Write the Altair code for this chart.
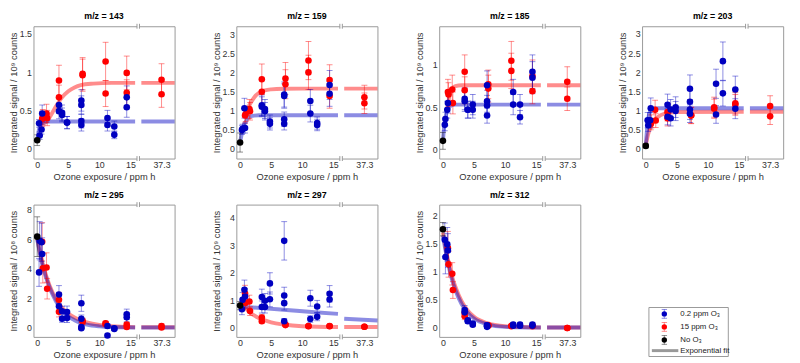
import altair as alt
import pandas as pd

# ---------------- data ----------------
MZ = ["143", "159", "185", "203", "295", "297", "312"]
UNIT_EXP = ["⁹", "⁹", "⁹", "⁹", "⁸", "⁹", "⁹"]

BLUE_X = [0.3, 0.4, 0.7, 0.8, 3.5, 3.5, 4.0, 4.0, 4.8, 4.8,
          7.1, 7.1, 7.1, 7.1, 11.3, 11.3, 12.4, 12.4, 14.4, 14.4]
RED_X = [0.8, 0.9, 1.5, 1.6, 3.5, 3.5, 7.3, 7.3, 11.0, 11.0, 14.4, 14.4, 37.3, 37.3]
BLACK_X = [0.0]

BLUE_Y = [
    [0.33, 0.17, 0.25, 0.46, 0.57, 0.49, 0.47, 0.44, 0.34, 0.34, 0.63, 0.57, 0.36, 0.31, 0.40, 0.31, 0.29, 0.18, 0.67, 0.54],
    [0.50, 0.53, 1.07, 0.55, 1.15, 1.11, 1.05, 0.99, 0.72, 0.66, 1.43, 1.39, 0.78, 0.66, 1.26, 0.93, 0.68, 0.63, 1.68, 1.45],
    [0.29, 0.36, 0.47, 0.55, 0.60, 0.57, 0.47, 0.47, 0.53, 0.47, 0.76, 0.57, 0.52, 0.40, 0.68, 0.53, 0.53, 0.38, 0.92, 0.85],
    [0.75, 0.62, 0.75, 1.06, 1.15, 0.84, 1.03, 0.80, 1.09, 0.99, 1.57, 1.23, 1.03, 0.92, 1.70, 0.90, 2.29, 1.45, 1.55, 1.05],
    [3.75, 5.9, 5.8, 5.0, 2.25, 1.44, 1.1, 0.6, 1.06, 0.64, 1.65, 0.6, 0.04, -0.05, 0.1, -0.55, -0.05, -0.1, 0.9, 0.69],
    [0.67, 1.01, 1.38, 1.13, 1.11, 0.75, 0.98, 0.75, 1.61, 1.03, 3.16, 1.17, 0.89, 0.23, 1.07, 0.31, 0.77, 0.39, 1.23, 1.02],
    [1.57, 1.26, 1.49, 1.38, 0.31, 0.27, 0.13, 0.11, 0.07, 0.05, 0.04, 0.01, 0.03, 0.02, 0.05, 0.03, 0.05, 0.03, 0.05, 0.03],
]
BLUE_E = [
    [0.05, 0.05, 0.06, 0.11, 0.11, 0.10, 0.10, 0.09, 0.08, 0.08, 0.14, 0.12, 0.09, 0.08, 0.10, 0.08, 0.07, 0.05, 0.15, 0.13],
    [0.12, 0.12, 0.26, 0.13, 0.27, 0.26, 0.25, 0.23, 0.17, 0.16, 0.33, 0.32, 0.19, 0.16, 0.30, 0.22, 0.16, 0.15, 0.38, 0.33],
    [0.07, 0.08, 0.10, 0.12, 0.13, 0.12, 0.10, 0.10, 0.12, 0.10, 0.17, 0.13, 0.12, 0.09, 0.15, 0.12, 0.12, 0.08, 0.20, 0.19],
    [0.20, 0.16, 0.20, 0.27, 0.28, 0.21, 0.26, 0.20, 0.27, 0.25, 0.36, 0.30, 0.26, 0.23, 0.38, 0.23, 0.50, 0.33, 0.35, 0.26],
    [0.95, 1.3, 1.3, 1.1, 0.6, 0.4, 0.35, 0.25, 0.4, 0.3, 0.55, 0.25, 0.15, 0.1, 0.15, 0.1, 0.1, 0.1, 0.35, 0.3],
    [0.20, 0.27, 0.35, 0.30, 0.29, 0.22, 0.26, 0.22, 0.39, 0.27, 0.70, 0.30, 0.25, 0.10, 0.29, 0.12, 0.22, 0.14, 0.30, 0.27],
    [0.30, 0.30, 0.30, 0.30, 0.08, 0.07, 0.04, 0.04, 0.03, 0.03, 0.05, 0.02, 0.03, 0.02, 0.04, 0.03, 0.04, 0.03, 0.04, 0.03],
]
RED_Y = [
    [0.39, 0.41, 0.46, 0.40, 0.89, 0.67, 0.98, 0.96, 1.14, 0.72, 0.99, 0.73, 0.90, 0.71],
    [0.88, 0.92, 1.05, 0.99, 1.83, 1.50, 1.85, 1.70, 2.32, 2.01, 1.81, 1.39, 1.36, 1.20],
    [0.68, 0.65, 0.71, 0.55, 0.92, 0.70, 0.77, 0.72, 1.05, 0.93, 0.87, 0.69, 0.80, 0.60],
    [0.65, 0.72, 1.02, 0.74, 0.96, 0.80, 0.88, 0.87, 1.09, 1.05, 1.19, 1.15, 1.12, 0.85],
    [5.83, 4.03, 4.08, 2.64, 1.89, 1.07, 0.43, 0.40, 0.28, 0.25, 0.21, 0.04, 0.10, 0.0],
    [1.24, 0.90, 0.95, 0.60, 0.37, 0.23, 0.11, 0.09, 0.06, 0.05, 0.06, 0.05, 0.03, 0.03],
    [1.42, 1.13, 0.96, 0.67, 0.26, 0.20, 0.04, 0.03, 0.03, 0.02, 0.03, 0.02, -0.01, -0.01],
]
RED_E = [
    [0.10, 0.10, 0.12, 0.10, 0.20, 0.16, 0.21, 0.21, 0.25, 0.17, 0.22, 0.17, 0.21, 0.17],
    [0.20, 0.20, 0.25, 0.23, 0.40, 0.33, 0.42, 0.38, 0.50, 0.45, 0.40, 0.32, 0.31, 0.27],
    [0.15, 0.14, 0.17, 0.13, 0.20, 0.16, 0.17, 0.16, 0.23, 0.21, 0.19, 0.15, 0.18, 0.14],
    [0.15, 0.17, 0.25, 0.18, 0.23, 0.20, 0.21, 0.21, 0.26, 0.25, 0.28, 0.27, 0.27, 0.21],
    [1.3, 1.0, 1.0, 0.7, 0.5, 0.35, 0.2, 0.2, 0.15, 0.15, 0.12, 0.1, 0.15, 0.1],
    [0.30, 0.23, 0.23, 0.16, 0.10, 0.07, 0.04, 0.03, 0.03, 0.02, 0.03, 0.02, 0.02, 0.02],
    [0.30, 0.23, 0.20, 0.15, 0.08, 0.06, 0.03, 0.03, 0.02, 0.02, 0.02, 0.02, 0.02, 0.02],
]
BLACK_Y = [0.11, 0.17, 0.10, 0.08, 6.18, 0.80, 1.76]
BLACK_E = [0.07, 0.25, 0.10, 0.05, 1.35, 0.15, 0.12]

FIT_BLUE_X = [
    [0, 0.25, 0.5, 0.75, 1, 1.5, 2, 15.75],
    [0, 0.25, 0.5, 0.75, 1, 1.5, 2, 3, 15.75],
    [0, 0.25, 0.5, 0.75, 1, 1.5, 2, 15.75],
    [0, 0.25, 0.5, 0.75, 1, 1.5, 2, 15.75],
    [0, 0.5, 1, 1.5, 2, 3, 4, 5, 6, 7, 8, 10, 12, 15.75],
    [0, 4, 8, 12, 15.75],
    [0, 0.5, 1, 1.5, 2, 3, 4, 5, 7, 10, 15.75],
]
FIT_BLUE_Y = [
    [0.10, 0.24, 0.31, 0.34, 0.35, 0.355, 0.355, 0.355],
    [0.17, 0.38, 0.55, 0.67, 0.75, 0.84, 0.87, 0.885, 0.885],
    [0.10, 0.30, 0.41, 0.47, 0.50, 0.525, 0.53, 0.53],
    [0.08, 0.60, 0.88, 0.99, 1.03, 1.055, 1.06, 1.06],
    [6.0, 4.9, 4.0, 3.3, 2.7, 1.8, 1.15, 0.75, 0.5, 0.32, 0.2, 0.08, 0.03, 0.0],
    [0.77, 0.70, 0.63, 0.56, 0.50],
    [1.65, 1.33, 1.06, 0.84, 0.67, 0.42, 0.26, 0.16, 0.06, 0.01, 0.0],
]
FIT_BLUE_TAIL = [[0.355, 0.355], [0.885, 0.885], [0.53, 0.53], [1.06, 1.06],
                 [0.0, 0.0], [0.32, 0.26], [0.0, 0.0]]
FIT_RED_X = [
    [0.8, 1.2, 1.6, 2, 2.5, 3, 4, 5, 6, 7, 9, 12, 15.75],
    [0.8, 1, 1.5, 2, 2.5, 3, 4, 5, 7, 10, 15.75],
    [0.8, 1, 1.25, 1.5, 2, 3, 4, 15.75],
    [0, 0.25, 0.5, 1, 1.5, 2, 3, 4, 5, 15.75],
    [0, 0.5, 1, 1.5, 2, 3, 4, 5, 6, 7, 8, 10, 12, 15.75],
    [0, 0.5, 1, 1.5, 2, 3, 4, 5, 7, 10, 15.75],
    [0, 0.5, 1, 1.5, 2, 3, 4, 5, 7, 10, 15.75],
]
FIT_RED_Y = [
    [0.33, 0.34, 0.36, 0.41, 0.48, 0.55, 0.67, 0.75, 0.80, 0.83, 0.85, 0.86, 0.86],
    [0.85, 0.95, 1.15, 1.29, 1.40, 1.47, 1.54, 1.565, 1.58, 1.585, 1.585],
    [0.50, 0.62, 0.69, 0.72, 0.75, 0.76, 0.76, 0.76],
    [0.10, 0.30, 0.45, 0.64, 0.76, 0.84, 0.92, 0.95, 0.965, 0.97],
    [6.1, 5.0, 4.15, 3.45, 2.85, 1.95, 1.35, 0.95, 0.68, 0.48, 0.34, 0.17, 0.08, 0.02],
    [0.95, 0.80, 0.68, 0.57, 0.48, 0.35, 0.26, 0.19, 0.11, 0.05, 0.02],
    [1.70, 1.38, 1.12, 0.90, 0.73, 0.47, 0.30, 0.19, 0.08, 0.02, 0.0],
]
FIT_RED_TAIL = [[0.86, 0.86], [1.585, 1.585], [0.76, 0.76], [0.97, 0.97],
                [0.02, 0.02], [0.02, 0.02], [0.0, 0.0]]

Y_DOMAIN = [[-0.13, 1.6], [-0.25, 3.22], [-0.11, 1.46], [-0.25, 3.2],
            [-0.64, 8.36], [-0.34, 4.48], [-0.17, 2.2]]
Y_TICKS = [[0, 0.5, 1, 1.5], [0, 0.5, 1, 1.5, 2, 2.5, 3], [0, 0.5, 1],
           [0, 0.5, 1, 1.5, 2, 2.5, 3], [0, 2, 4, 6, 8], [0, 1, 2, 3, 4],
           [0, 0.5, 1, 1.5, 2]]
X_TICKS = [0, 5, 10, 15]
FAR_LABEL = "37.3"

LEG_LABELS = ["0.2 ppm O₃", "15 ppm O₃", "No O₃"]
FIT_LABEL = "Exponential fit"

# ---------------- style / layout ----------------
W, H = 144, 135
BLUE, RED, BLACK = "#0000c0", "#ff0000", "#000000"
FRAME = "#999999"
FONT = "Liberation Sans"
XDOM = [-0.6, 22.1]
FAR_POS = 20          # plot position of the far (37.3) column after the axis break
BREAK_L, BREAK_R = 16.05, 16.45
TAIL_X = [16.75, 22.1]

COLOR = alt.Color("s:N", scale=alt.Scale(domain=["blue", "red", "black"],
                                         range=[BLUE, RED, BLACK]), legend=None)


def xenc(field):
    return alt.X(f"{field}:Q",
                 scale=alt.Scale(domain=XDOM, nice=False, zero=False),
                 axis=alt.Axis(values=X_TICKS + [FAR_POS],
                               labelExpr=f"datum.value == {FAR_POS} ? '{FAR_LABEL}' : datum.label",
                               labelFlush=False, labelOverlap=False),
                 title="Ozone exposure / ppm h")


def yenc(i, field):
    return alt.Y(f"{field}:Q",
                 scale=alt.Scale(domain=Y_DOMAIN[i], nice=False, zero=False),
                 axis=alt.Axis(values=Y_TICKS[i], format="~g", titleX=-15, titleY=H / 2,
                               labelOverlap=False, labelFlush=False),
                 title=f"Integrated signal / 10{UNIT_EXP[i]} counts")


def panel(i):
    rows = []
    for x, y, e in zip(RED_X, RED_Y[i], RED_E[i]):
        rows.append(dict(x=x, y=y, e=e, s="red"))
    for x, y, e in zip(BLUE_X, BLUE_Y[i], BLUE_E[i]):
        rows.append(dict(x=x, y=y, e=e, s="blue"))
    rows.append(dict(x=BLACK_X[0], y=BLACK_Y[i], e=BLACK_E[i], s="black"))
    pts = pd.DataFrame(rows)

    frows = []
    for x, y in zip(FIT_RED_X[i], FIT_RED_Y[i]):
        frows.append(dict(x=x, y=y, s="red", g="red-main"))
    for x, y in zip(TAIL_X, FIT_RED_TAIL[i]):
        frows.append(dict(x=x, y=y, s="red", g="red-tail"))
    for x, y in zip(FIT_BLUE_X[i], FIT_BLUE_Y[i]):
        frows.append(dict(x=x, y=y, s="blue", g="blue-main"))
    for x, y in zip(TAIL_X, FIT_BLUE_TAIL[i]):
        frows.append(dict(x=x, y=y, s="blue", g="blue-tail"))
    fits = pd.DataFrame(frows)

    base = alt.Chart(pts).transform_calculate(
        xp=f"datum.x > 16 ? {FAR_POS} : datum.x",
        lo="datum.y - datum.e",
        hi="datum.y + datum.e",
    )
    fit = alt.Chart(fits).mark_line(strokeWidth=4, opacity=0.45, strokeCap="butt",
                                    interpolate="monotone").encode(
        x=xenc("x"), y=yenc(i, "y"), color=COLOR, detail="g:N")
    err = base.mark_rule(strokeWidth=1, opacity=0.45).encode(
        x=xenc("xp"), y=yenc(i, "lo"), y2="hi:Q", color=COLOR)
    cap_lo = base.mark_tick(orient="horizontal", size=6, thickness=1, opacity=0.45).encode(
        x=xenc("xp"), y=yenc(i, "lo"), color=COLOR)
    cap_hi = base.mark_tick(orient="horizontal", size=6, thickness=1, opacity=0.45).encode(
        x=xenc("xp"), y=yenc(i, "hi"), color=COLOR)
    dots = base.mark_circle(size=45, opacity=1).encode(
        x=xenc("xp"), y=yenc(i, "y"), color=COLOR)

    gap = pd.DataFrame({"x": [BREAK_L], "x2": [BREAK_R]})
    brk = pd.DataFrame({"x": [BREAK_L, BREAK_R]})
    cover_t = alt.Chart(gap).mark_rect(color="white").encode(
        x=xenc("x"), x2="x2:Q", y=alt.value(-1.5), y2=alt.value(1.5))
    cover_b = alt.Chart(gap).mark_rect(color="white").encode(
        x=xenc("x"), x2="x2:Q", y=alt.value(H - 1.5), y2=alt.value(H + 1.5))
    mark_t = alt.Chart(brk).mark_rule(color=FRAME, strokeWidth=1).encode(
        x=xenc("x"), y=alt.value(-2.5), y2=alt.value(2.5))
    mark_b = alt.Chart(brk).mark_rule(color=FRAME, strokeWidth=1).encode(
        x=xenc("x"), y=alt.value(H - 2.5), y2=alt.value(H + 2.5))

    return alt.layer(fit, err, cap_lo, cap_hi, dots, cover_t, cover_b, mark_t, mark_b).properties(
        width=W, height=H,
        title=alt.Title(f"m/z = {MZ[i]}", font=FONT, fontSize=9, fontWeight="bold",
                        color="#000", offset=2),
    )


def legend_panel():
    one = pd.DataFrame({"k": [0]})
    layers = [alt.Chart(one).mark_rect(fill="white", stroke=FRAME, strokeWidth=1).encode(
        x=alt.value(7), x2=alt.value(88), y=alt.value(105), y2=alt.value(155))]
    colors = [BLUE, RED, BLACK]
    for k, (lab, col) in enumerate(zip(LEG_LABELS, colors)):
        yc = 111.5 + k * 13.3
        layers.append(alt.Chart(one).mark_rule(color=col, opacity=0.45).encode(
            x=alt.value(22.7), y=alt.value(yc - 4.5), y2=alt.value(yc + 4.5)))
        for dy in (-4.5, 4.5):
            layers.append(alt.Chart(one).mark_rule(color=col, opacity=0.45).encode(
                x=alt.value(20), x2=alt.value(25.5), y=alt.value(yc + dy)))
        layers.append(alt.Chart(one).mark_circle(color=col, size=30, opacity=1).encode(
            x=alt.value(22.7), y=alt.value(yc)))
        lab_df = pd.DataFrame({"label": [lab]})
        layers.append(alt.Chart(lab_df).mark_text(align="left", baseline="middle", font=FONT,
                                                  fontSize=8, color="#222").encode(
            x=alt.value(39), y=alt.value(yc), text="label:N"))
    yl = 149
    layers.append(alt.Chart(one).mark_rule(color="#999999", strokeWidth=3).encode(
        x=alt.value(10), x2=alt.value(37), y=alt.value(yl)))
    fit_df = pd.DataFrame({"label": [FIT_LABEL]})
    layers.append(alt.Chart(fit_df).mark_text(align="left", baseline="middle", font=FONT,
                                              fontSize=8, color="#222").encode(
        x=alt.value(39), y=alt.value(yl), text="label:N"))
    return alt.layer(*layers).properties(width=W, height=H,
                                         view=alt.ViewBackground(stroke="transparent"))


panels = [panel(i) for i in range(len(MZ))]
chart = alt.concat(*panels, legend_panel(), columns=4,
                   spacing={"row": 47, "column": 63}, bounds="flush").properties(
    padding={"left": 0, "top": 0, "right": 0, "bottom": 0}
).configure_view(
    stroke=FRAME, strokeWidth=1
).configure_axis(
    labelFont=FONT, titleFont=FONT, labelFontSize=9, titleFontSize=9.5,
    labelColor="#333", titleColor="#333", titleFontWeight="normal",
    grid=False, ticks=False, domain=False, labelPadding=2, titlePadding=2,
)

chart.save("out.html", embed_options={"renderer": "svg", "actions": False})
